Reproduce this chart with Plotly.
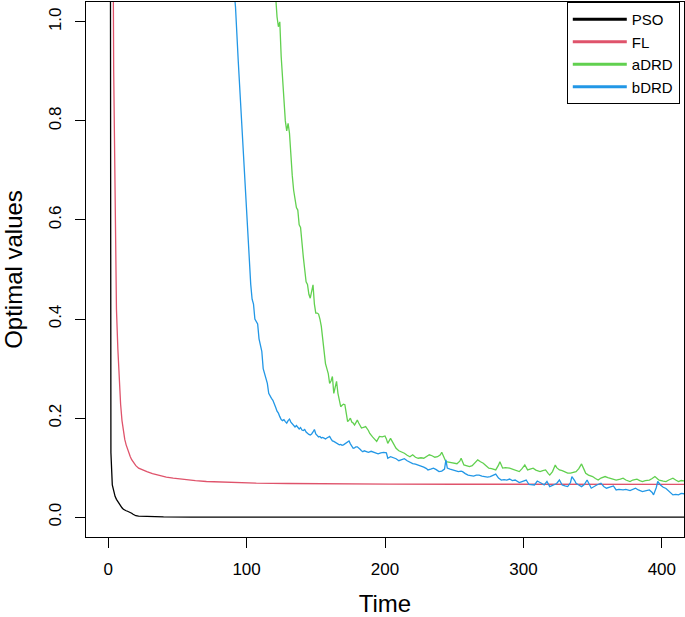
import plotly.graph_objects as go

# ---- data ----
pso_t = [1, 2, 3, 4, 5, 6, 7, 8, 9, 10, 11, 12, 13, 14, 15, 16, 17, 18, 19, 20, 22, 25, 30, 40, 60, 100, 200, 300, 420]
pso_v = [3.0, 0.13, 0.065, 0.05, 0.042, 0.036, 0.031, 0.027, 0.023, 0.019, 0.016, 0.014, 0.013, 0.012, 0.011,
         0.010, 0.008, 0.006, 0.004, 0.003, 0.002, 0.0015, 0.001, 0.0005, 0.0002, 0.0001, 0.0, 0.0, 0.0]

fl_t = [1, 2, 3, 4, 5, 6, 7, 8, 9, 10, 11, 12, 13, 14, 15, 16, 17, 18, 20, 22, 25, 28, 32, 37, 42, 47, 55, 63,
        71, 80, 90, 107, 130, 160, 203, 250, 300, 350, 420]
fl_v = [5.0, 2.5, 1.5, 0.9, 0.58, 0.42, 0.34, 0.275, 0.228, 0.195, 0.172, 0.157, 0.146, 0.137, 0.129, 0.122,
        0.116, 0.111, 0.104, 0.099, 0.095, 0.092, 0.088, 0.084, 0.081, 0.079, 0.076, 0.074, 0.072, 0.071, 0.070,
        0.0686, 0.068, 0.0672, 0.0667, 0.0665, 0.0664, 0.0663, 0.0663]

adrd_t = [115, 121, 122, 123, 124, 125, 126, 127, 128, 129, 130, 131, 132, 133, 134, 135, 136, 137, 138, 139,
          140, 141, 142, 143, 144, 145, 146, 147, 148, 149, 150, 151, 152, 153, 154, 155, 156, 157, 158, 159,
          160, 161, 162, 163, 164, 165, 166, 167, 168, 169, 170, 171, 172, 173, 174, 175, 176, 177, 178, 179,
          180, 181, 182, 183, 185, 186, 188, 189, 191, 193, 194, 195, 196, 198, 200, 201, 202, 204, 206, 208,
          210, 212, 214, 216, 218, 220, 222, 224, 226, 228, 230, 232, 234, 236, 238, 240, 241, 243, 244, 246,
          248, 250, 252, 254, 255, 257, 259, 261, 263, 265, 267, 269, 271, 273, 275, 277, 280, 282, 283, 285,
          287, 290, 292, 294, 296, 297, 299, 301, 303, 305, 307, 309, 312, 314, 316, 318, 319, 321, 323, 324,
          326, 328, 330, 332, 334, 336, 338, 340, 342, 344, 345, 347, 350, 352, 354, 356, 359, 361, 363, 365,
          367, 370, 372, 374, 377, 379, 382, 384, 386, 388, 391, 393, 395, 397, 398, 401, 403, 405, 408, 410,
          412, 414, 416, 420]
adrd_v = [1.3, 1.04, 1.01, 0.99, 1.0, 0.93, 0.88, 0.84, 0.80, 0.78, 0.795, 0.775, 0.72, 0.69, 0.66, 0.64, 0.625,
          0.62, 0.59, 0.585, 0.55, 0.525, 0.50, 0.475, 0.47, 0.45, 0.442, 0.455, 0.469, 0.43, 0.412, 0.412, 0.41,
          0.40, 0.385, 0.36, 0.33, 0.31, 0.30, 0.29, 0.27, 0.275, 0.284, 0.25, 0.262, 0.274, 0.25, 0.232, 0.223,
          0.226, 0.228, 0.227, 0.21, 0.193, 0.196, 0.2, 0.192, 0.19, 0.186, 0.19, 0.196, 0.19, 0.184, 0.18, 0.182,
          0.183, 0.175, 0.169, 0.162, 0.155, 0.153, 0.158, 0.163, 0.162, 0.164, 0.158, 0.149, 0.159, 0.15, 0.139,
          0.134, 0.132, 0.129, 0.125, 0.122, 0.126, 0.121, 0.119, 0.12, 0.119, 0.123, 0.126, 0.124, 0.121, 0.122,
          0.126, 0.131, 0.118, 0.112, 0.111, 0.11, 0.109, 0.108, 0.113, 0.119, 0.1055, 0.104, 0.102, 0.104, 0.11,
          0.1156, 0.112, 0.109, 0.104, 0.099, 0.098, 0.0954, 0.105, 0.112, 0.099, 0.1, 0.099, 0.097, 0.0954, 0.093,
          0.092, 0.098, 0.1055, 0.0954, 0.097, 0.099, 0.095, 0.092, 0.094, 0.0954, 0.088, 0.085, 0.092, 0.1055,
          0.1, 0.0954, 0.094, 0.092, 0.089, 0.0888, 0.09, 0.092, 0.098, 0.1075, 0.095, 0.0888, 0.085, 0.082, 0.078,
          0.075, 0.079, 0.082, 0.08, 0.0787, 0.077, 0.075, 0.077, 0.0787, 0.075, 0.072, 0.075, 0.0767, 0.074,
          0.072, 0.074, 0.075, 0.078, 0.082, 0.077, 0.075, 0.073, 0.072, 0.075, 0.0787, 0.075, 0.072, 0.074,
          0.073, 0.072]

bdrd_t = [85, 92, 94, 96, 98, 99, 100, 101, 102, 103, 104, 105, 106, 107, 108, 109, 110, 111, 112, 113, 114,
          115, 116, 117, 118, 119, 120, 121, 122, 123, 124, 125, 126, 127, 128, 129, 130, 131, 132, 133, 134,
          135, 136, 137, 138, 139, 140, 141, 142, 143, 144, 145, 146, 147, 148, 149, 150, 151, 152, 153, 154,
          155, 156, 157, 158, 159, 160, 161, 162, 163, 164, 165, 166, 167, 168, 169, 170, 171, 172, 173, 174,
          175, 176, 177, 178, 179, 180, 181, 182, 183, 184, 185, 186, 188, 190, 191, 193, 195, 197, 199, 201,
          202, 204, 206, 208, 210, 212, 214, 216, 218, 220, 222, 224, 226, 228, 230, 231, 233, 235, 237, 239,
          241, 243, 244, 245, 247, 249, 251, 253, 255, 256, 258, 260, 262, 264, 266, 268, 270, 272, 274, 276,
          278, 280, 282, 284, 286, 288, 290, 292, 294, 296, 297, 299, 302, 304, 306, 308, 310, 311, 313, 315,
          317, 319, 321, 322, 324, 326, 328, 330, 332, 334, 335, 337, 338, 340, 342, 344, 346, 349, 351, 353,
          356, 358, 360, 362, 365, 367, 369, 372, 374, 377, 379, 381, 383, 386, 388, 391, 393, 394, 396, 397,
          399, 401, 403, 404, 406, 408, 410, 412, 414, 416, 420]
bdrd_v = [1.25, 1.03, 0.92, 0.82, 0.70, 0.65, 0.60, 0.55, 0.51, 0.47, 0.44, 0.43, 0.40, 0.395, 0.39, 0.36, 0.345,
          0.335, 0.30, 0.29, 0.284, 0.27, 0.25, 0.243, 0.24, 0.236, 0.23, 0.222, 0.214, 0.21, 0.203, 0.197, 0.195,
          0.197, 0.193, 0.19, 0.195, 0.198, 0.192, 0.188, 0.186, 0.182, 0.185, 0.18, 0.178, 0.181, 0.176, 0.175,
          0.177, 0.172, 0.169, 0.167, 0.166, 0.168, 0.172, 0.177, 0.168, 0.164, 0.162, 0.163, 0.16, 0.161, 0.159,
          0.158, 0.16, 0.162, 0.163, 0.158, 0.154, 0.153, 0.151, 0.15, 0.148, 0.146, 0.147, 0.145, 0.146, 0.148,
          0.15, 0.153, 0.154, 0.148, 0.142, 0.139, 0.14, 0.142, 0.142, 0.14, 0.137, 0.134, 0.132, 0.134, 0.133,
          0.131, 0.133, 0.132, 0.129, 0.128, 0.130, 0.131, 0.130, 0.119, 0.122, 0.12, 0.118, 0.114, 0.116, 0.118,
          0.114, 0.111, 0.108, 0.107, 0.1055, 0.104, 0.101, 0.098, 0.0954, 0.097, 0.099, 0.096, 0.092, 0.093,
          0.097, 0.1156, 0.099, 0.097, 0.0954, 0.094, 0.092, 0.093, 0.092, 0.088, 0.085, 0.084, 0.083, 0.085,
          0.085, 0.083, 0.082, 0.081, 0.082, 0.084, 0.087, 0.079, 0.075, 0.076, 0.075, 0.077, 0.074, 0.075, 0.072,
          0.070, 0.072, 0.075, 0.066, 0.065, 0.065, 0.073, 0.072, 0.0686, 0.065, 0.072, 0.0617, 0.064, 0.065,
          0.068, 0.075, 0.065, 0.063, 0.0617, 0.07, 0.082, 0.074, 0.0686, 0.065, 0.0617, 0.066, 0.075, 0.0585,
          0.062, 0.065, 0.0686, 0.062, 0.0585, 0.06, 0.063, 0.055, 0.056, 0.055, 0.056, 0.0537, 0.056, 0.0585,
          0.055, 0.0517, 0.053, 0.055, 0.05, 0.045, 0.06, 0.072, 0.065, 0.0605, 0.058, 0.055, 0.05, 0.045, 0.046,
          0.045, 0.048, 0.047, 0.046]

series_names = ["PSO", "FL", "aDRD", "bDRD"]
series_colors = ["#000000", "#DF536B", "#61D04F", "#2297E6"]
x_ticks = [0, 100, 200, 300, 400]
y_ticks = [0.0, 0.2, 0.4, 0.6, 0.8, 1.0]

FONT = "Liberation Sans, Arial, Helvetica, sans-serif"

fig = go.Figure()
data = [(pso_t, pso_v), (fl_t, fl_v), (adrd_t, adrd_v), (bdrd_t, bdrd_v)]
for (t, v), name, col in zip(data, series_names, series_colors):
    fig.add_trace(go.Scatter(x=t, y=v, mode="lines", name=name, showlegend=False,
                             line=dict(color=col, width=1.3), hoverinfo="skip"))
# legend entries (thicker key lines, as in the reference)
for name, col in zip(series_names, series_colors):
    fig.add_trace(go.Scatter(x=[None], y=[None], mode="lines", name=name,
                             line=dict(color=col, width=3)))

fig.update_layout(
    width=685, height=617,
    margin=dict(l=86, r=1, t=2, b=80, autoexpand=False),
    paper_bgcolor="white", plot_bgcolor="white",
    font=dict(family=FONT, color="black"),
    showlegend=True,
    legend=dict(x=0.804, xanchor="left", y=1, yanchor="top",
                bordercolor="black", borderwidth=1, bgcolor="white",
                font=dict(size=15, family=FONT), tracegroupgap=0, itemwidth=54),
    xaxis=dict(range=[-16, 416], tickvals=x_ticks, ticktext=[str(v) for v in x_ticks],
               showgrid=False, zeroline=False, showline=True, mirror=True, automargin=False,
               linecolor="black", linewidth=1, ticks="outside", ticklen=10,
               tickcolor="black", tickfont=dict(size=17), ticklabelstandoff=7,
               title=dict(text="Time", font=dict(size=24), standoff=28)),
    yaxis=dict(range=[-0.04, 1.04], tickvals=y_ticks, ticktext=[f"{v:.1f}" for v in y_ticks],
               showgrid=False, zeroline=False, showline=True, mirror=True, automargin=False,
               linecolor="black", linewidth=1, ticks="outside", ticklen=10,
               tickcolor="black", tickfont=dict(size=17), tickangle=-90, ticklabelstandoff=7,
               title=dict(text="Optimal values", font=dict(size=24), standoff=22)),
)

fig.write_html("out.html", config={"displayModeBar": False},
               post_script="document.body.style.margin='0px';")
